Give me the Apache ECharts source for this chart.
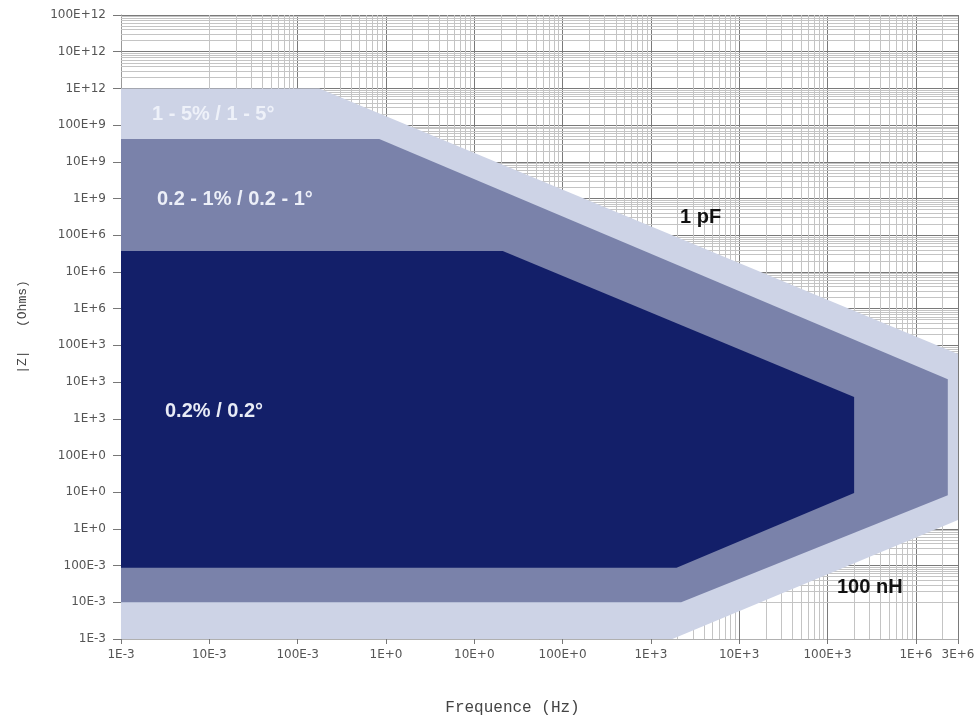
<!DOCTYPE html>
<html>
<head>
<meta charset="utf-8">
<title>Zones de precision |Z| / frequence</title>
<script src="https://cdn.jsdelivr.net/npm/echarts@6/dist/echarts.min.js"></script>
<style>
html,body{margin:0;padding:0;background:#fff;}
#chart{width:974px;height:717px;}
</style>
</head>
<body>
<div id="chart"></div>
<script>
// contours des zones (frequence en Hz, |Z| en Ohms)
var zoneLarge_f = [1e-3, 0.176, 3e6, 3e6, 1.75e3, 1e-3];
var zoneLarge_z = [1e12, 1e12, 5.8e4, 1.75, 1e-3, 1e-3];
var zoneMoy_f = [1e-3, 0.84, 2.3e6, 2.3e6, 2.2e3, 1e-3];
var zoneMoy_z = [4.2e10, 4.2e10, 1.2e4, 8.3, 1e-2, 1e-2];
var zoneFine_f = [1e-3, 21, 2.0e5, 2.0e5, 1.95e3, 1e-3];
var zoneFine_z = [3.7e7, 3.7e7, 3.9e3, 9.5, 0.088, 0.088];

var zoneNoms = ['1 - 5% / 1 - 5°', '0.2 - 1% / 0.2 - 1°', '0.2% / 0.2°'];
var zoneCouleurs = ['#cdd3e6', '#7a82aa', '#131f69'];
var limites = ['1 pF', '100 nH'];

// bornes des axes
var freqMin = 1e-3, freqMax = 3e6;
var zMin = 1e-3, zMax = 1e14;

// notation ingenieur : 100E+12, 10E-3, 3E+6 ...
function formatIng(v){
	var e = Math.floor(Math.log10(v) + 1e-6);
	var e3 = Math.floor(e / 3) * 3;
	var m = Math.round(v / Math.pow(10, e3) * 100) / 100;
	return m + 'E' + (e3 < 0 ? '-' : '+') + Math.abs(e3);
}

// quadrillage log secondaire (2..9 par decade)
var lignesX = [], lignesY = [];
for (var k = -3; k <= 6; k++) {
	for (var m = 2; m <= 9; m++) {
		var v = m * Math.pow(10, k);
		if (v < freqMax) lignesX.push({xAxis: v});
	}
}
for (var k2 = -3; k2 <= 13; k2++) {
	for (var m2 = 2; m2 <= 9; m2++) {
		lignesY.push({yAxis: m2 * Math.pow(10, k2)});
	}
}

function serieZone(nom, fs, zs, couleur, niveau){
	var pts = fs.map(function(f, i){ return [f, zs[i]]; });
	return {
		name: nom,
		type: 'custom',
		z: niveau,
		silent: true,
		data: pts,
		renderItem: function(params, api){
			if (params.dataIndex !== 0) return;
			var poly = pts.map(function(p){ return api.coord(p); });
			return {type: 'polygon', shape: {points: poly}, style: {fill: couleur}};
		}
	};
}

var chart = echarts.init(document.getElementById('chart'));
var police = 'DejaVu Sans';
var option = {
	animation: false,
	backgroundColor: '#ffffff',
	grid: {left: 121, right: 16, top: 15, bottom: 78, outerBoundsMode: 'none', containLabel: false},
	xAxis: {
		type: 'log', logBase: 10,
		min: freqMin, max: freqMax,
		interval: 1, splitNumber: 20,
		name: 'Frequence (Hz)',
		nameLocation: 'middle',
		nameGap: 61,
		nameTextStyle: {fontFamily: 'Liberation Mono', fontSize: 16, color: '#444', padding: [0, 54, 0, 0]},
		axisLine: {show: true, lineStyle: {color: '#b0b0b0'}},
		axisTick: {show: true, length: 5, lineStyle: {color: '#777'}},
		axisLabel: {formatter: formatIng, fontFamily: police, fontSize: 12, color: '#555', margin: 10},
		splitLine: {show: true, lineStyle: {color: '#7a7a7a', width: 1}}
	},
	yAxis: {
		type: 'log', logBase: 10,
		min: zMin, max: zMax,
		interval: 1, splitNumber: 20,
		name: '|Z|   (Ohms)',
		nameLocation: 'middle',
		nameRotate: 90,
		nameGap: 92,
		nameTextStyle: {fontFamily: 'Liberation Mono', fontSize: 13, color: '#444'},
		axisLine: {show: true, lineStyle: {color: '#999'}},
		axisTick: {show: true, length: 8, lineStyle: {color: '#777'}},
		axisLabel: {formatter: formatIng, fontFamily: police, fontSize: 12, color: '#555', margin: 15},
		splitLine: {show: true, lineStyle: {color: '#7a7a7a', width: 1}}
	},
	graphic: [
		{type: 'text', left: 152, top: 104, z: 20, silent: true,
			style: {text: zoneNoms[0], fill: '#eef1f9', fontSize: 20, fontWeight: 'bold', fontFamily: 'Liberation Sans'}},
		{type: 'text', left: 157, top: 189, z: 20, silent: true,
			style: {text: zoneNoms[1], fill: '#eceff8', fontSize: 20, fontWeight: 'bold', fontFamily: 'Liberation Sans'}},
		{type: 'text', left: 165, top: 401, z: 20, silent: true,
			style: {text: zoneNoms[2], fill: '#e8ebf6', fontSize: 20, fontWeight: 'bold', fontFamily: 'Liberation Sans'}},
		{type: 'text', left: 680, top: 207, z: 20, silent: true,
			style: {text: limites[0], fill: '#111', fontSize: 20, fontWeight: 'bold', fontFamily: 'Liberation Sans'}},
		{type: 'text', left: 837, top: 577, z: 20, silent: true,
			style: {text: limites[1], fill: '#111', fontSize: 20, fontWeight: 'bold', fontFamily: 'Liberation Sans'}}
	],
	series: [
		{
			type: 'line', data: [], z: 1, silent: true,
			markLine: {
				silent: true, z: 1, animation: false,
				symbol: ['none', 'none'],
				label: {show: false},
				lineStyle: {color: '#c4c4c4', width: 1, type: 'solid'},
				emphasis: {disabled: true},
				data: lignesX.concat(lignesY)
			}
		},
		serieZone(zoneNoms[0], zoneLarge_f, zoneLarge_z, zoneCouleurs[0], 2),
		serieZone(zoneNoms[1], zoneMoy_f, zoneMoy_z, zoneCouleurs[1], 3),
		serieZone(zoneNoms[2], zoneFine_f, zoneFine_z, zoneCouleurs[2], 4)
	]
};
chart.setOption(option);
</script>
</body>
</html>
